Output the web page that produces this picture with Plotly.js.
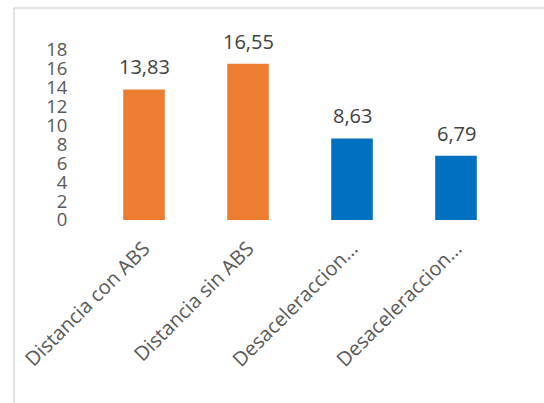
<!DOCTYPE html>
<html><head><meta charset="utf-8">
<script src="https://cdn.plot.ly/plotly-3.0.1.min.js"></script>
<style>body{margin:0;background:#fff}#c{width:544px;height:403px}</style>
</head><body><div id="c"></div>
<script>
const categories = ["Distancia con ABS", "Distancia sin ABS", "Desaceleraccion con ABS", "Desaceleraccion sin ABS"];
const tickLabels = ["Distancia con ABS", "Distancia sin ABS", "Desaceleraccion…", "Desaceleraccion…"];
const values = [13.83, 16.55, 8.63, 6.79];
const valueLabels = ["13,83", "16,55", "8,63", "6,79"];
const barColors = ["#ED7D31", "#ED7D31", "#0070C0", "#0070C0"];
const yTicks = [0, 2, 4, 6, 8, 10, 12, 14, 16, 18];

const W = 544, H = 403;
const M = {l: 92, r: 36, t: 50, b: 183};
const pw = W - M.l - M.r, ph = H - M.t - M.b;
const px = x => (x - M.l) / pw;
const py = y => (H - M.b - y) / ph;
const font = "Open Sans, sans-serif";

const trace = {
  type: "bar",
  x: categories,
  y: values,
  marker: {color: barColors},
  width: 0.4,
  hoverinfo: "none"
};

const annotations = categories.map((c, i) => ({
  x: c, y: values[i], xref: "x", yref: "y",
  text: valueLabels[i], showarrow: false,
  yanchor: "bottom", yshift: 7,
  font: {family: font, size: 20, color: "#404040"}
}));

const layout = {
  width: W, height: H,
  margin: M,
  paper_bgcolor: "#fff", plot_bgcolor: "#fff",
  showlegend: false,
  xaxis: {
    type: "category",
    tickvals: categories, ticktext: tickLabels,
    tickangle: -45,
    ticks: "outside", ticklen: 8, tickcolor: "rgba(0,0,0,0)",
    tickfont: {family: font, size: 20, color: "#595959"},
    showgrid: false, zeroline: false, showline: false
  },
  yaxis: {
    range: [0, 18],
    tickvals: yTicks,
    ticks: "outside", ticklen: 20, tickcolor: "rgba(0,0,0,0)",
    tickfont: {family: font, size: 18.5, color: "#595959"},
    showgrid: false, zeroline: false, showline: false
  },
  annotations: annotations,
  shapes: [
    {type: "line", xref: "paper", yref: "paper", x0: px(14), x1: px(14), y0: py(8), y1: py(410), line: {color: "#D9D9D9", width: 1.5}},
    {type: "line", xref: "paper", yref: "paper", x0: px(14), x1: px(550), y0: py(8), y1: py(8), line: {color: "#D9D9D9", width: 1.5}}
  ]
};

Plotly.newPlot("c", [trace], layout, {staticPlot: true, displayModeBar: false});
</script>
</body></html>
